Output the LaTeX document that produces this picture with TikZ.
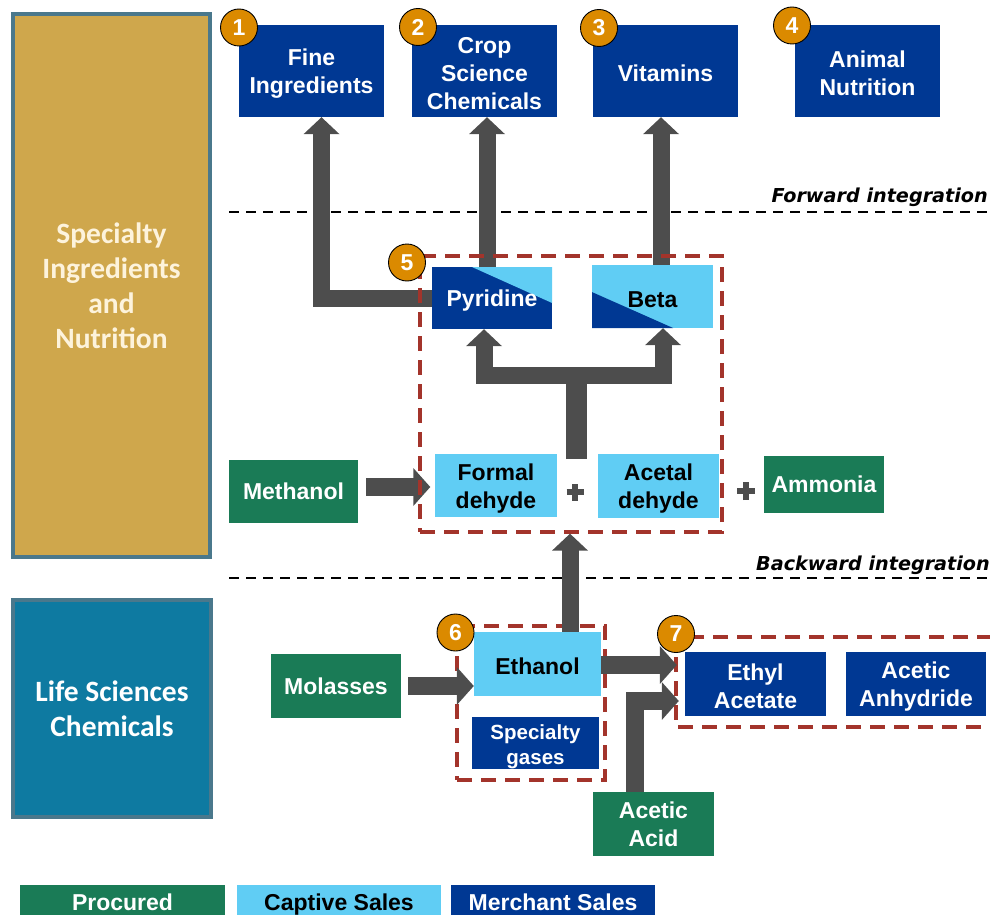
\documentclass[tikz,border=0pt]{standalone}
\usepackage{fontspec}
\setmainfont{Liberation Sans}
\newfontfamily\carlito{Carlito}
\newfontfamily\dejavu{DejaVu Sans}
\usetikzlibrary{arrows.meta,calc}
\definecolor{dblue}{RGB}{0,56,147}
\definecolor{lblue}{RGB}{96,205,244}
\definecolor{pgreen}{RGB}{26,123,86}
\definecolor{agray}{RGB}{77,77,77}
\definecolor{borange}{RGB}{219,138,0}
\definecolor{dred}{RGB}{163,52,43}
\definecolor{goldp}{RGB}{207,167,76}
\definecolor{tealp}{RGB}{14,122,161}
\definecolor{pborder}{RGB}{74,120,140}
\definecolor{cream}{RGB}{253,243,220}
\newcommand\toppad{\rule{0pt}{22pt}}
\begin{document}
\begin{tikzpicture}[x=1pt,y=-1pt,
  sz/.style 2 args={minimum width=#1, minimum height=#2},
  box/.style={inner sep=0pt, align=center, font=\bfseries\fontsize{23}{28}\selectfont},
  padded/.style={execute at begin node=\toppad},
  mbox/.style={box, padded, fill=dblue, text=white},
  cbox/.style={box, padded, fill=lblue, text=black},
  pbox/.style={box, fill=pgreen, text=white},
  legtext/.style={text height=16.5pt, text depth=4pt},
  panel/.style={inner sep=0pt, draw=pborder, line width=3.5pt, align=center, text=#1,
     font=\carlito\bfseries\fontsize{29.5}{35}\selectfont},
  badge/.style={circle, fill=borange, draw=black, line width=0.9pt, minimum size=37pt,
     inner sep=0pt, text=white, font=\bfseries\fontsize{23}{23}\selectfont},
  dbox/.style={draw=dred, line width=3.3pt, dash pattern=on 15pt off 9pt},
  intline/.style={draw=black, line width=2pt, dash pattern=on 10pt off 7pt},
  intlabel/.style={anchor=base east, inner sep=0pt, font=\dejavu\bfseries\itshape\fontsize{19.2}{19.2}\selectfont},
  blk/.style={draw=agray, line width=17pt, -{Triangle[width=35pt,length=17pt]}},
  blkh/.style={draw=agray, line width=18pt, -{Triangle[width=37pt,length=17pt]}},
  plusline/.style={draw=agray, line width=5.5pt}
]
\useasboundingbox (0,0) rectangle (990,915);
\clip (0,0) rectangle (990,915);

% side panels
\node[panel=cream, fill=goldp, sz={197pt}{543pt}] (spec) at (111.5,285.5)
  {Specialty\\Ingredients\\and\\Nutrition};
\node[panel=white, fill=tealp, sz={198pt}{217pt}] (life) at (112,708.5)
  {Life Sciences\\Chemicals};

% integration lines
\coordinate (fl0) at (229,212); \coordinate (fl1) at (990,212);
\coordinate (bl0) at (229,578); \coordinate (bl1) at (990,578);
\draw[intline] (fl0) -- (fl1);
\draw[intline] (bl0) -- (bl1);
\node[intlabel] (fwd) at (988,202) {Forward integration};
\node[intlabel] (bwd) at (990,570) {Backward integration};

% top boxes
\node[mbox, sz={145pt}{92pt}] (fine) at (311.5,71) {\toppad Fine\\Ingredients};
\node[mbox, sz={145pt}{92pt}] (crop) at (484.5,71) {\toppad Crop\\Science\\Chemicals};
\node[mbox, sz={145pt}{92pt}] (vit) at (665.5,71) {Vitamins};
\node[mbox, sz={145pt}{92pt}] (anim) at (867.5,71) {\toppad Animal\\Nutrition};

% pyridine / beta
\node[box, padded, fill=dblue, text=white, sz={120pt}{62pt},
  path picture={\fill[lblue] ($(path picture bounding box.north west)!0.333!(path picture bounding box.north east)$)
     -- (path picture bounding box.north east)
     -- ($(path picture bounding box.north east)!0.58!(path picture bounding box.south east)$) -- cycle;}]
  (pyr) at (492,298) {Pyridine};
\node[box, padded, fill=lblue, text=black, sz={121pt}{63pt},
  path picture={\fill[dblue] ($(path picture bounding box.north west)!0.43!(path picture bounding box.south west)$)
     -- (path picture bounding box.south west)
     -- ($(path picture bounding box.south west)!0.67!(path picture bounding box.south east)$) -- cycle;}]
  (beta) at (652.5,296.5) {Beta};

% middle row
\node[cbox, sz={122pt}{63pt}] (form) at (496,485.5) {\toppad Formal\\dehyde};
\node[cbox, sz={121pt}{64pt}] (acet) at (658.5,486) {\toppad Acetal\\dehyde};
\node[pbox, sz={129pt}{63pt}] (meth) at (293.5,491.5) {Methanol};
\node[pbox, sz={120pt}{57pt}] (amm) at (824,484.5) {Ammonia};
% plus signs
\coordinate (p1) at (575,492);
\coordinate (p2) at (746,491);
\draw[plusline] ([xshift=-8.5pt]p1) -- ([xshift=8.5pt]p1) ([yshift=-8.5pt]p1) -- ([yshift=8.5pt]p1);
\draw[plusline, line width=6pt] ([xshift=-9pt]p2) -- ([xshift=9pt]p2) ([yshift=-9pt]p2) -- ([yshift=9pt]p2);

% lower part
\node[cbox, sz={127pt}{64pt}] (eth) at (537.5,664) {Ethanol};
\node[mbox, sz={127pt}{50pt}, font=\bfseries\fontsize{20.5}{25}\selectfont] (sgas) at (535.5,743) {\toppad Specialty\\gases};
\node[pbox, sz={130pt}{64pt}] (mol) at (336,686) {Molasses};
\node[mbox, sz={141pt}{64pt}] (ethac) at (755.5,684) {\toppad Ethyl\\Acetate};
\node[mbox, sz={140pt}{64pt}] (anh) at (916,684) {\toppad Acetic\\Anhydride};
\node[pbox, sz={121pt}{64pt}] (acid) at (653.5,824) {Acetic\\Acid};

% legend
\node[pbox, legtext, sz={205pt}{38pt}] (lproc) at (122.5,904) {Procured};
\node[cbox, legtext, sz={204pt}{38pt}] (lcapt) at (339,904) {Captive Sales};
\node[mbox, legtext, sz={204pt}{38pt}] (lmerch) at (553,904) {Merchant Sales};

% dashed groups (6 and 7)
\node[dbox, inner sep=0pt, sz={148pt}{154pt}] (b6) at (531,703) {};
\coordinate (b7a) at (992,637); \coordinate (b7b) at (676,637);
\coordinate (b7c) at (676,727); \coordinate (b7d) at (992,727);
\draw[dbox] (b7a) -- (b7b) -- (b7c) -- (b7d);

% arrows to end markets
\draw[blk] (pyr.west) -| ([xshift=10pt]fine.south);
\draw[blk] ([xshift=-5pt]pyr.north) -- ([xshift=-5pt]pyr.north |- crop.south);
\draw[blk] ([xshift=8.5pt]beta.north) -- ([xshift=8.5pt]beta.north |- vit.south);

% fork
\coordinate (fk) at (576.5,375.5);
\coordinate (fkb) at (576.5,459);
\coordinate (fkt) at (576.5,368);
\draw[agray, line width=21pt] (fkb) -- (fkt);
\draw[blk] (fk) -| ([xshift=-8pt]pyr.south);
\draw[blk] (fk) -| ([xshift=10.5pt]beta.south);

% methanol
\coordinate (ma) at ([xshift=8pt,yshift=4.5pt]meth.east);
\draw[blkh] (ma) -- ([xshift=-4.5pt]form.west |- ma);

% dashed group 5
\node[dbox, inner sep=0pt, sz={302pt}{276pt}] (b5) at (571,394) {};

% ethanol up
\draw[blk] ([xshift=32.5pt]eth.north) -- ([xshift=32.5pt]eth.north |- b5.south);

% molasses
\coordinate (mo) at ([xshift=7pt,yshift=0pt]mol.east);
\draw[blkh] (mo) -- (eth.west |- mo);

% ethanol to ethyl acetate
\coordinate (eo) at ([yshift=-1pt]eth.east);
\draw[blkh] (eo) -- ([xshift=-8pt]ethac.west |- eo);

% acetic acid
\draw[blkh] ([xshift=-18.5pt]acid.north) |- ([xshift=-6pt,yshift=-17pt]ethac.west);

% badges
\node[badge] (n1) at (239,27.5) {1};
\node[badge] (n2) at (418,27) {2};
\node[badge] (n3) at (599,28) {3};
\node[badge] (n4) at (792,25.5) {4};
\node[badge] (n5) at (407,262.5) {5};
\node[badge] (n6) at (455.5,632.5) {6};
\node[badge] (n7) at (676,634) {7};
\end{tikzpicture}
\end{document}
